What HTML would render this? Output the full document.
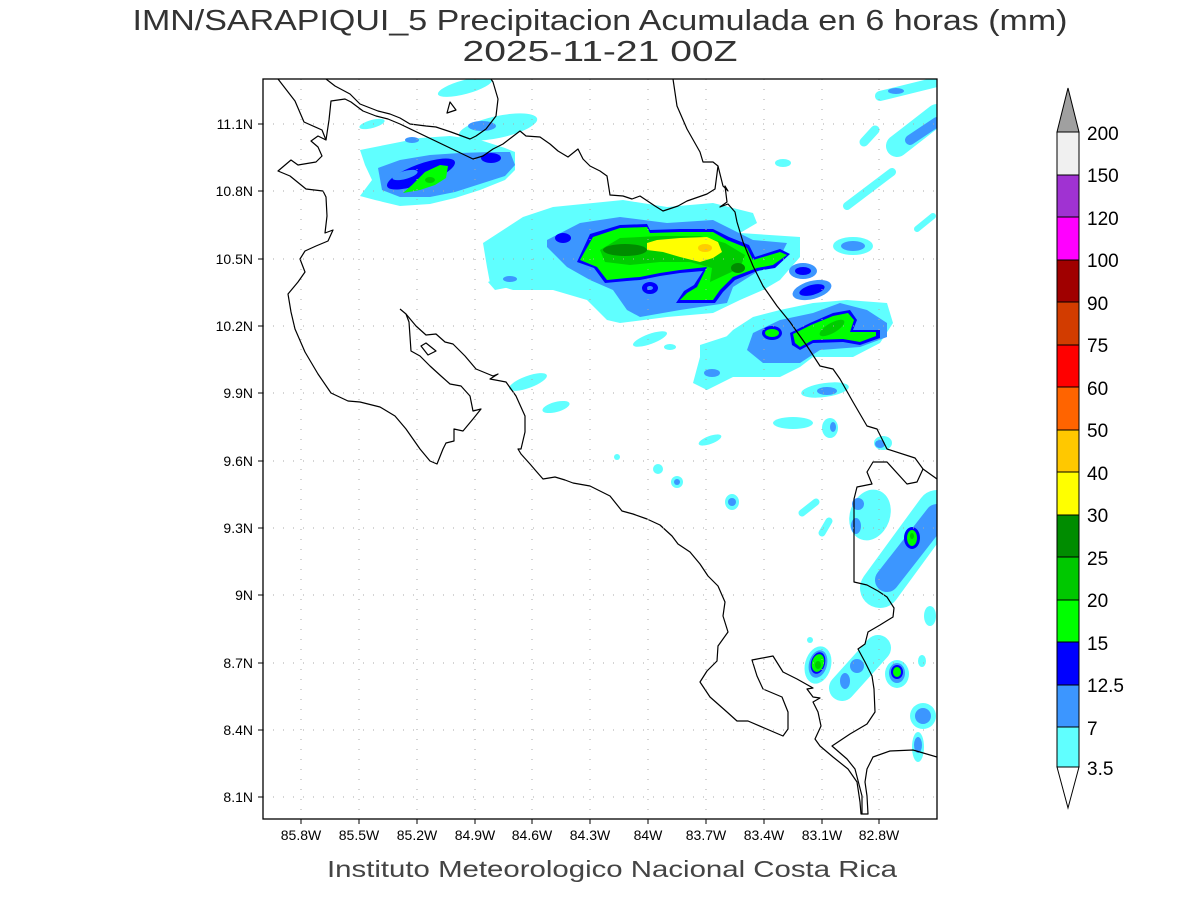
<!DOCTYPE html>
<html><head><meta charset="utf-8"><style>
html,body{margin:0;padding:0;background:#fff;}
svg{display:block;font-family:"Liberation Sans",sans-serif;}
</style></head><body>
<svg width="1200" height="900" viewBox="0 0 1200 900" xmlns="http://www.w3.org/2000/svg">
<rect width="1200" height="900" fill="#fff"/>
<text x="600" y="30" font-size="29" text-anchor="middle" fill="#333" textLength="935" lengthAdjust="spacingAndGlyphs">IMN/SARAPIQUI_5 Precipitacion Acumulada en 6 horas (mm)</text>
<text x="600" y="61" font-size="29" text-anchor="middle" fill="#333" textLength="275" lengthAdjust="spacingAndGlyphs">2025-11-21 00Z</text>
<defs><clipPath id="c"><rect x="263" y="79" width="674" height="740"/></clipPath></defs>
<g clip-path="url(#c)">
<!-- NW blob -->
<ellipse cx="465" cy="87" rx="28" ry="7" fill="#60ffff" transform="rotate(-15 465 87)"/>
<ellipse cx="498" cy="127" rx="40" ry="11" fill="#60ffff" transform="rotate(-12 498 127)"/>
<ellipse cx="482" cy="126" rx="14" ry="5" fill="#3c96ff"/>
<ellipse cx="372" cy="124" rx="13" ry="4" fill="#60ffff" transform="rotate(-15 372 124)"/>
<polygon points="360,150 390,144 420,138 450,136 480,140 505,148 515,152 515,170 505,180 480,190 455,198 430,204 400,206 375,200 360,196 372,180 365,165" fill="#60ffff"/>
<polygon points="378,168 400,160 430,155 460,153 490,152 510,152 515,165 505,176 480,184 455,192 430,197 400,197 382,190" fill="#3c96ff"/>
<ellipse cx="421" cy="174" rx="36" ry="10" fill="#0000ff" transform="rotate(-20 421 174)"/>
<ellipse cx="405" cy="175" rx="13" ry="4" fill="#3c96ff" transform="rotate(-15 405 175)"/>
<polygon points="403,193 412,185 425,172 440,165 448,166 446,178 435,185 420,190" fill="#00ff00"/>
<ellipse cx="430" cy="180" rx="5" ry="3" fill="#00cc00"/>
<ellipse cx="491" cy="158" rx="10" ry="5" fill="#0000ff"/>
<ellipse cx="412" cy="140" rx="7" ry="3" fill="#3c96ff"/>
<!-- main blob -->
<polygon points="483,243 523,217 553,207 623,200 667,207 713,203 753,213 757,223 740,233 800,237 800,257 780,280 763,290 740,300 713,313 667,317 620,323 607,320 587,300 553,290 513,290 490,283 487,267" fill="#60ffff"/>
<polygon points="488,282 510,272 533,272 520,285 495,290" fill="#60ffff"/>
<ellipse cx="510" cy="279" rx="7" ry="3" fill="#3c96ff"/>
<polygon points="547,240 580,223 620,217 667,223 713,220 733,230 753,240 787,243 780,257 760,270 733,287 727,303 680,310 640,317 627,310 613,290 590,280 567,267 547,247" fill="#3c96ff"/>
<polygon points="577,262 590,234 620,225 647,224 650,230 680,229 713,229 729,237 749,245 755,257 780,249 790,254 775,268 757,271 735,280 723,292 715,303 676,303 684,291 694,285 703,271 680,273 660,276 640,280 627,281 605,283 594,268" fill="#0000ff"/>
<polygon points="580,260 593,237 620,228 647,227 650,233 680,232 713,232 727,240 747,248 753,260 780,252 787,255 773,265 757,268 733,277 720,290 713,300 680,300 687,293 697,287 707,267 680,270 660,273 640,277 627,278 607,280 597,267" fill="#00ff00"/>
<polygon points="600,250 620,238 660,236 700,236 725,243 745,255 740,268 725,275 710,282 712,268 690,262 660,262 630,265 605,262" fill="#00cc00"/>
<ellipse cx="625" cy="250" rx="22" ry="6" fill="#008c00"/>
<ellipse cx="738" cy="268" rx="7" ry="5" fill="#008c00"/>
<polygon points="647,243 657,240 680,238 707,237 718,242 722,252 713,258 700,262 680,257 663,252 647,250" fill="#ffff00"/>
<ellipse cx="705" cy="248" rx="7" ry="4" fill="#ffcc00"/>
<ellipse cx="650" cy="288" rx="8" ry="6" fill="#0000ff"/>
<ellipse cx="650" cy="288" rx="3" ry="2" fill="#3c96ff"/>
<ellipse cx="563" cy="238" rx="8" ry="5" fill="#0000ff"/>
<!-- east blob -->
<polygon points="713,350 733,330 753,317 780,310 813,303 847,300 887,303 893,323 880,343 853,357 813,357 800,367 780,377 733,377 707,390 693,383 700,357" fill="#60ffff"/>
<polygon points="700,345 740,332 760,345 750,365 720,380 700,375" fill="#60ffff"/>
<polygon points="753,333 780,320 813,313 840,303 867,310 887,323 887,337 860,347 820,350 800,363 763,363 747,350" fill="#3c96ff"/>
<polygon points="790,333 810,323 833,313 850,310 857,320 853,330 880,330 880,338 860,345 843,342 813,343 800,350 792,345" fill="#0000ff"/>
<polygon points="793,334 811,325 833,316 848,313 854,320 850,332 876,332 876,336 860,342 843,339 813,340 800,347 795,343" fill="#00ff00"/>
<ellipse cx="832" cy="328" rx="14" ry="5" fill="#00cc00" transform="rotate(-30 832 328)"/>
<ellipse cx="772" cy="333" rx="10" ry="7" fill="#0000ff"/>
<ellipse cx="772" cy="333" rx="7" ry="4" fill="#00ff00"/>
<ellipse cx="803" cy="271" rx="14" ry="8" fill="#3c96ff"/>
<ellipse cx="803" cy="271" rx="8" ry="4" fill="#0000ff"/>
<ellipse cx="812" cy="290" rx="20" ry="9" fill="#3c96ff" transform="rotate(-15 812 290)"/>
<ellipse cx="812" cy="290" rx="13" ry="5" fill="#0000ff" transform="rotate(-15 812 290)"/>
<ellipse cx="853" cy="246" rx="20" ry="9" fill="#60ffff"/>
<ellipse cx="853" cy="246" rx="12" ry="5" fill="#3c96ff"/>
<line x1="847" y1="206" x2="892" y2="172" stroke="#60ffff" stroke-width="8" stroke-linecap="round"/>
<line x1="864" y1="142" x2="875" y2="130" stroke="#60ffff" stroke-width="9" stroke-linecap="round"/>
<line x1="880" y1="96" x2="937" y2="82" stroke="#60ffff" stroke-width="10" stroke-linecap="round"/>
<ellipse cx="896" cy="91" rx="8" ry="3" fill="#3c96ff"/>
<line x1="897" y1="146" x2="937" y2="115" stroke="#60ffff" stroke-width="22" stroke-linecap="round"/>
<line x1="910" y1="140" x2="937" y2="122" stroke="#3c96ff" stroke-width="10" stroke-linecap="round"/>
<line x1="917" y1="229" x2="933" y2="216" stroke="#60ffff" stroke-width="6" stroke-linecap="round"/>
<ellipse cx="783" cy="163" rx="8" ry="4" fill="#60ffff"/>
<ellipse cx="650" cy="339" rx="18" ry="5" fill="#60ffff" transform="rotate(-20 650 339)"/>
<ellipse cx="670" cy="347" rx="6" ry="3" fill="#60ffff"/>
<ellipse cx="712" cy="373" rx="8" ry="4" fill="#3c96ff"/>
<ellipse cx="825" cy="390" rx="24" ry="7" fill="#60ffff" transform="rotate(-8 825 390)"/>
<ellipse cx="827" cy="391" rx="10" ry="4" fill="#3c96ff"/>
<ellipse cx="793" cy="423" rx="20" ry="6" fill="#60ffff"/>
<ellipse cx="830" cy="428" rx="8" ry="10" fill="#60ffff"/>
<ellipse cx="833" cy="427" rx="3" ry="5" fill="#3c96ff"/>
<ellipse cx="710" cy="440" rx="12" ry="4" fill="#60ffff" transform="rotate(-20 710 440)"/>
<ellipse cx="883" cy="443" rx="9" ry="7" fill="#60ffff"/>
<ellipse cx="880" cy="444" rx="5" ry="4" fill="#3c96ff"/>
<ellipse cx="528" cy="382" rx="20" ry="6" fill="#60ffff" transform="rotate(-20 528 382)"/>
<ellipse cx="556" cy="407" rx="14" ry="5" fill="#60ffff" transform="rotate(-15 556 407)"/>
<!-- south-east -->
<circle cx="617" cy="457" r="3" fill="#60ffff"/>
<circle cx="658" cy="469" r="5" fill="#60ffff"/>
<circle cx="677" cy="482" r="6" fill="#60ffff"/><circle cx="677" cy="482" r="3" fill="#3c96ff"/>
<ellipse cx="732" cy="502" rx="7" ry="8" fill="#60ffff"/><circle cx="732" cy="502" r="4" fill="#3c96ff"/>
<line x1="802" y1="513" x2="816" y2="502" stroke="#60ffff" stroke-width="7" stroke-linecap="round"/>
<line x1="822" y1="533" x2="829" y2="521" stroke="#60ffff" stroke-width="7" stroke-linecap="round"/>
<ellipse cx="870" cy="515" rx="20" ry="26" fill="#60ffff" transform="rotate(20 870 515)"/>
<ellipse cx="858" cy="504" rx="6" ry="6" fill="#3c96ff"/>
<ellipse cx="856" cy="526" rx="5" ry="8" fill="#3c96ff"/>
<line x1="880" y1="588" x2="937" y2="510" stroke="#60ffff" stroke-width="40" stroke-linecap="round"/>
<line x1="887" y1="580" x2="937" y2="516" stroke="#3c96ff" stroke-width="24" stroke-linecap="round"/>
<ellipse cx="912" cy="538" rx="8" ry="11" fill="#0000ff"/>
<ellipse cx="912" cy="538" rx="5" ry="8" fill="#00ff00"/>
<ellipse cx="912" cy="536" rx="2" ry="3" fill="#00cc00"/>
<ellipse cx="930" cy="616" rx="6" ry="10" fill="#60ffff"/>
<circle cx="810" cy="640" r="3" fill="#60ffff"/>
<ellipse cx="818" cy="665" rx="13" ry="19" fill="#60ffff" transform="rotate(15 818 665)"/>
<ellipse cx="818" cy="664" rx="9" ry="14" fill="#3c96ff" transform="rotate(15 818 664)"/>
<ellipse cx="818" cy="663" rx="7" ry="11" fill="#0000ff" transform="rotate(15 818 663)"/>
<ellipse cx="818" cy="663" rx="6" ry="9" fill="#00ff00" transform="rotate(15 818 663)"/>
<ellipse cx="818" cy="665" rx="3" ry="4" fill="#00cc00"/>
<line x1="842" y1="688" x2="878" y2="648" stroke="#60ffff" stroke-width="26" stroke-linecap="round"/>
<circle cx="857" cy="666" r="7" fill="#3c96ff"/>
<ellipse cx="845" cy="681" rx="5" ry="8" fill="#3c96ff"/>
<ellipse cx="897" cy="674" rx="12" ry="14" fill="#60ffff"/>
<ellipse cx="897" cy="673" rx="8" ry="10" fill="#3c96ff"/>
<ellipse cx="897" cy="672" rx="6" ry="7" fill="#0000ff"/>
<ellipse cx="897" cy="672" rx="4" ry="5" fill="#00ff00"/>
<ellipse cx="922" cy="661" rx="4" ry="6" fill="#60ffff"/>
<circle cx="923" cy="716" r="13" fill="#60ffff"/><circle cx="923" cy="716" r="8" fill="#3c96ff"/>
<ellipse cx="918" cy="747" rx="6" ry="15" fill="#60ffff"/>
<ellipse cx="918" cy="745" rx="4" ry="8" fill="#3c96ff"/>
<!-- coastline -->
<g fill="none" stroke="#000" stroke-width="1.2" stroke-linejoin="round">
<polyline points="278,79 295,101 304,122 322,130 326,140 318,136 311,141 318,147 322,156 316,162 298,165 291,160 278,171 290,176 306,189 323,191 326,197 327,216 325,233 333,230 328,241 316,246 305,251 300,259 305,272 298,282 288,294 291,312 295,329 305,352 318,374 331,393 348,401 360,402 380,407 395,416 406,429 420,449 430,461 437,464 443,449 446,443 454,441 454,429 463,431 473,419 481,409 473,411 470,396 461,386 450,384 441,376 430,366 420,356 411,351 409,322 406,314 400,309"/>
<polyline points="406,314 416,326 426,335 436,334 445,342 453,344 465,356 476,369 493,376 498,374 490,379 506,382 516,396 525,416 525,432 521,449 518,449 521,454 530,464 536,471 543,479 555,477 565,480 573,483 590,486 600,491 610,496 622,511 633,514 647,519 660,525 672,536 678,544 690,552 700,564 708,576 718,586 725,602 723,616 728,632 718,646 717,661 707,671 700,682 710,697 727,712 737,721 748,721 783,736 788,729 788,712 782,697 763,689 757,676 752,660 773,656 783,672 797,679 813,688 807,689 813,697 820,698 813,702 818,712 821,726 815,739 820,746 833,757 848,769 857,782 860,802 861,814 868,814 867,796 865,782 867,769 873,757 890,751 913,750 937,757"/>
<polyline points="326,140 329,120 331,101 345,99 351,102 363,111 376,116 388,119 400,124 473,159 483,156 493,149 503,144 520,131 526,136 540,137 550,144 558,151 568,157 578,149 583,159 590,166 600,171 607,176 610,195 623,196 632,199 640,196 655,206 663,211 678,206 687,201 707,194 715,189 718,166 713,162 703,162 700,152 687,129 677,106 673,79"/>
<polyline points="326,79 335,86 350,94 360,104 378,111 390,114 400,118 410,124 426,126 436,127 451,132 470,139 476,136 486,129 496,116 498,99 493,82 491,79"/>
<polyline points="718,166 723,186 728,191 725,186 727,202 720,207 728,204 735,212 737,222 743,242 753,266 763,286 777,306 790,322 807,346 820,366 833,369 840,379 853,402 867,426 877,429 887,449 915,458 923,469 937,479"/>
<polyline points="923,469 917,482 907,484 887,462 873,462 867,472 872,484 857,487 854,499 854,582 867,585 878,591 887,597 894,608 893,617 880,625 868,632 865,644 858,649 865,662 872,676 874,689 875,712 867,724 850,734 832,746 847,759 855,769 862,796 862,814"/>
<polygon points="447,113 450,102 456,110"/>
<polygon points="421,346 426,343 436,351 428,355"/>
</g>
</g>
<!-- grid -->
<g stroke="#aaa" stroke-width="1" stroke-dasharray="1,9">
<line x1="301" y1="79" x2="301" y2="819"/><line x1="359" y1="79" x2="359" y2="819"/><line x1="417" y1="79" x2="417" y2="819"/><line x1="475" y1="79" x2="475" y2="819"/><line x1="532" y1="79" x2="532" y2="819"/><line x1="590" y1="79" x2="590" y2="819"/><line x1="648" y1="79" x2="648" y2="819"/><line x1="706" y1="79" x2="706" y2="819"/><line x1="764" y1="79" x2="764" y2="819"/><line x1="822" y1="79" x2="822" y2="819"/><line x1="879" y1="79" x2="879" y2="819"/>
<line x1="263" y1="124" x2="937" y2="124"/><line x1="263" y1="191" x2="937" y2="191"/><line x1="263" y1="259" x2="937" y2="259"/><line x1="263" y1="326" x2="937" y2="326"/><line x1="263" y1="393" x2="937" y2="393"/><line x1="263" y1="461" x2="937" y2="461"/><line x1="263" y1="528" x2="937" y2="528"/><line x1="263" y1="595" x2="937" y2="595"/><line x1="263" y1="663" x2="937" y2="663"/><line x1="263" y1="730" x2="937" y2="730"/><line x1="263" y1="797" x2="937" y2="797"/>
</g>
<rect x="263" y="79" width="674" height="740" fill="none" stroke="#000" stroke-width="1.3"/>
<g stroke="#000" stroke-width="1">
<line x1="258" y1="124" x2="263" y2="124"/><line x1="258" y1="191" x2="263" y2="191"/><line x1="258" y1="259" x2="263" y2="259"/><line x1="258" y1="326" x2="263" y2="326"/><line x1="258" y1="393" x2="263" y2="393"/><line x1="258" y1="461" x2="263" y2="461"/><line x1="258" y1="528" x2="263" y2="528"/><line x1="258" y1="595" x2="263" y2="595"/><line x1="258" y1="663" x2="263" y2="663"/><line x1="258" y1="730" x2="263" y2="730"/><line x1="258" y1="797" x2="263" y2="797"/>
<line x1="301" y1="819" x2="301" y2="824"/><line x1="359" y1="819" x2="359" y2="824"/><line x1="417" y1="819" x2="417" y2="824"/><line x1="475" y1="819" x2="475" y2="824"/><line x1="532" y1="819" x2="532" y2="824"/><line x1="590" y1="819" x2="590" y2="824"/><line x1="648" y1="819" x2="648" y2="824"/><line x1="706" y1="819" x2="706" y2="824"/><line x1="764" y1="819" x2="764" y2="824"/><line x1="822" y1="819" x2="822" y2="824"/><line x1="879" y1="819" x2="879" y2="824"/>
</g>
<g font-size="14" fill="#000" text-anchor="end">
<text x="253" y="129">11.1N</text><text x="253" y="196">10.8N</text><text x="253" y="264">10.5N</text><text x="253" y="331">10.2N</text><text x="253" y="398">9.9N</text><text x="253" y="466">9.6N</text><text x="253" y="533">9.3N</text><text x="253" y="600">9N</text><text x="253" y="668">8.7N</text><text x="253" y="735">8.4N</text><text x="253" y="802">8.1N</text>
</g>
<g font-size="14" fill="#000" text-anchor="middle">
<text x="301" y="840">85.8W</text><text x="359" y="840">85.5W</text><text x="417" y="840">85.2W</text><text x="475" y="840">84.9W</text><text x="532" y="840">84.6W</text><text x="590" y="840">84.3W</text><text x="648" y="840">84W</text><text x="706" y="840">83.7W</text><text x="764" y="840">83.4W</text><text x="822" y="840">83.1W</text><text x="879" y="840">82.8W</text>
</g>
<text x="612" y="877" font-size="23" text-anchor="middle" fill="#444" textLength="570" lengthAdjust="spacingAndGlyphs">Instituto Meteorologico Nacional Costa Rica</text>
<!-- colorbar -->
<g stroke="#000" stroke-width="1">
<polygon points="1057,132 1079,132 1068,88" fill="#a0a0a0"/>
<rect x="1057" y="132" width="22" height="43" fill="#f0f0f0"/>
<rect x="1057" y="175" width="22" height="42" fill="#a032d2"/>
<rect x="1057" y="217" width="22" height="43" fill="#ff00ff"/>
<rect x="1057" y="260" width="22" height="42" fill="#a00000"/>
<rect x="1057" y="302" width="22" height="43" fill="#d23c00"/>
<rect x="1057" y="345" width="22" height="42" fill="#ff0000"/>
<rect x="1057" y="387" width="22" height="43" fill="#ff6400"/>
<rect x="1057" y="430" width="22" height="42" fill="#ffc800"/>
<rect x="1057" y="472" width="22" height="43" fill="#ffff00"/>
<rect x="1057" y="515" width="22" height="42" fill="#008c00"/>
<rect x="1057" y="557" width="22" height="43" fill="#00c800"/>
<rect x="1057" y="600" width="22" height="42" fill="#00ff00"/>
<rect x="1057" y="642" width="22" height="43" fill="#0000ff"/>
<rect x="1057" y="685" width="22" height="42" fill="#3c96ff"/>
<rect x="1057" y="727" width="22" height="40" fill="#60ffff"/>
<polygon points="1057,767 1079,767 1068,808" fill="#fff"/>
</g>
<g font-size="19" fill="#000">
<text x="1087" y="140">200</text><text x="1087" y="182">150</text><text x="1087" y="225">120</text><text x="1087" y="267">100</text><text x="1087" y="310">90</text><text x="1087" y="352">75</text><text x="1087" y="395">60</text><text x="1087" y="437">50</text><text x="1087" y="480">40</text><text x="1087" y="522">30</text><text x="1087" y="565">25</text><text x="1087" y="607">20</text><text x="1087" y="650">15</text><text x="1087" y="692">12.5</text><text x="1087" y="735">7</text><text x="1087" y="775">3.5</text>
</g>
</svg>
</body></html>
